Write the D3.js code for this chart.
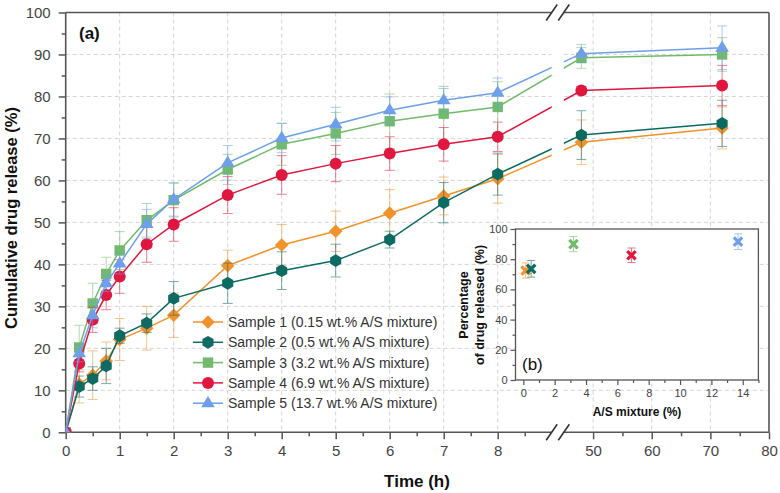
<!DOCTYPE html>
<html><head><meta charset="utf-8">
<script src="https://cdn.jsdelivr.net/npm/d3@7"></script>
<style>
body{margin:0;background:#fff;}
svg{display:block;font-family:"Liberation Sans",Arial,sans-serif;}
</style></head>
<body><svg id="c" width="780" height="493"></svg>
<script>
// ---- data ----
const times = [0,0.25,0.5,0.75,1,1.5,2,3,4,5,6,7,8,48,72];
const seriesNames = ["Sample 1 (0.15 wt.% A/S mixture)","Sample 2 (0.5 wt.% A/S mixture)","Sample 3 (3.2 wt.% A/S mixture)","Sample 4 (6.9 wt.% A/S mixture)","Sample 5 (13.7 wt.% A/S mixture)"];
const s1 = [0,11.5,13.6,17.0,22.1,24.8,27.9,39.7,44.6,47.9,52.2,56.3,60.4,69.1,72.5];
const e1 = [0,4.5,5.8,4.5,5.0,5.2,5.3,3.7,4.9,4.8,5.6,4.5,5.8,5.3,5.0];
const s2 = [0,10.9,12.8,15.8,23.0,26.0,31.9,35.5,38.5,40.9,45.9,54.7,61.5,70.8,73.6];
const e2 = [0,2.5,2.8,4.2,1.8,2.2,4.0,4.8,4.5,3.9,2.0,4.8,5.0,5.8,5.5];
const s3 = [0,20.2,30.7,37.7,43.3,50.5,55.3,62.6,68.6,71.2,74.1,75.9,77.5,89.2,90.0];
const e3 = [0,5.3,4.8,4.0,4.5,4.0,4.0,3.6,5.0,5.0,6.5,6.5,6.0,2.5,4.0];
const s4 = [0,16.4,26.8,32.7,37.1,44.8,49.5,56.5,61.3,64.0,66.4,68.6,70.4,81.4,82.6];
const e4 = [0,2.0,3.0,3.5,4.0,4.3,4.0,4.4,4.6,4.3,4.0,4.0,3.5,1.0,4.8];
const s5 = [0,18.8,27.9,35.5,40.2,49.6,55.5,64.2,70.1,73.4,76.7,79.1,80.9,90.2,91.6];
const e5 = [0,2.0,3.0,2.0,2.5,3.5,4.0,4.1,3.5,4.0,3.2,2.8,3.5,2.2,5.2];
const xTicksLeft = [0,1,2,3,4,5,6,7,8];
const xTicksRight = [50,60,70,80];
const yTicks = [0,10,20,30,40,50,60,70,80,90,100];
// inset
const insetX = [0.15,0.5,3.2,6.9,13.7];
const insetY = [72.5,73.6,90.0,82.6,91.6];
const insetErr = [5.0,5.5,5.0,4.8,5.2];
const insetXTicks = [0,2,4,6,8,10,12,14];
const insetYTicks = [0,20,40,60,80,100];

const colors = ["#F2922C","#0E6B63","#72BB6C","#E0173F","#6E9FEA"];
const values = [s1,s2,s3,s4,s5];
const errs = [e1,e2,e3,e4,e5];
const shapes = ["diamond","hexagon","square","circle","triangle"];

const svg = d3.select("#c");
const L=65.7, R=769, T=12.5, B=432.3, B1=551.7, B2=563.8;
const x = d3.scaleLinear().domain([0,9,45,80]).range([L,B1,B2,R]);
const y = d3.scaleLinear().domain([0,100]).range([B,T]);

function shapePath(s){
  if(s==="diamond"){const r=6.8;return `M0,${-r}L${r},0L0,${r}L${-r},0Z`;}
  if(s==="hexagon"){const r=6.4;let p="";for(let i=0;i<6;i++){const a=Math.PI/2+i*Math.PI/3;p+=(i?"L":"M")+(r*Math.cos(a)).toFixed(2)+","+(-r*Math.sin(a)).toFixed(2);}return p+"Z";}
  if(s==="square"){const h=5.2;return `M${-h},${-h}H${h}V${h}H${-h}Z`;}
  if(s==="circle"){const r=6;return `M${r},0A${r},${r} 0 1,1 ${-r},0A${r},${r} 0 1,1 ${r},0Z`;}
  if(s==="triangle"){const r=7.2;return `M0,${-r}L${r*0.95},${r*0.55}L${-r*0.95},${r*0.55}Z`;}
}

// clip
const defs = svg.append("defs");
const cp = defs.append("clipPath").attr("id","plotclip");
cp.append("rect").attr("x",L).attr("y",T-20).attr("width",B1-L).attr("height",B-T+20);
cp.append("rect").attr("x",B2).attr("y",T-20).attr("width",R-B2+10).attr("height",B-T+20);
const cp2 = defs.append("clipPath").attr("id","markclip");
cp2.append("rect").attr("x",L).attr("y",T-20).attr("width",R-L+10).attr("height",B-T+20);

// grid
const grid = svg.append("g").attr("stroke","#cfcfcf").attr("stroke-width",0.9).attr("stroke-dasharray","4,3");
[1,2,3,4,5,6,7,8,50,60,70].forEach(v=>{
  grid.append("line").attr("x1",x(v)).attr("x2",x(v)).attr("y1",T).attr("y2",B);
});
[10,20,30,40,50,60,70,80,90].forEach(v=>{
  grid.append("line").attr("x1",L).attr("x2",B1).attr("y1",y(v)).attr("y2",y(v));
  grid.append("line").attr("x1",B2).attr("x2",R).attr("y1",y(v)).attr("y2",y(v));
});

// axes ticks
const axCol="#555";
const ax = svg.append("g");
const xMinor = [0.5,1.5,2.5,3.5,4.5,5.5,6.5,7.5,8.5,55,65,75];
ax.append("g").attr("transform",`translate(0,${B})`)
  .call(d3.axisBottom(x).tickValues(xTicksLeft.concat(xTicksRight)).tickSize(7).tickPadding(6).tickFormat(d3.format("d")))
  .call(g=>{g.select(".domain").remove();g.selectAll("line").attr("stroke",axCol).attr("stroke-width",1.5);
    g.selectAll("text").attr("fill","#444").style("font-size","15px").style("font-family","Liberation Sans, Arial, sans-serif");});
ax.append("g").attr("transform",`translate(0,${B})`)
  .call(d3.axisBottom(x).tickValues(xMinor).tickSize(4).tickFormat(""))
  .call(g=>{g.select(".domain").remove();g.selectAll("line").attr("stroke",axCol).attr("stroke-width",1.5);});
ax.append("g").attr("transform",`translate(${L},0)`)
  .call(d3.axisLeft(y).tickValues(yTicks).tickSize(7).tickPadding(8).tickFormat(d3.format("d")))
  .call(g=>{g.select(".domain").remove();g.selectAll("line").attr("stroke",axCol).attr("stroke-width",1.5);
    g.selectAll("text").attr("fill","#444").style("font-size","15px").style("font-family","Liberation Sans, Arial, sans-serif");});
ax.append("g").attr("transform",`translate(${L},0)`)
  .call(d3.axisLeft(y).tickValues([5,15,25,35,45,55,65,75,85,95]).tickSize(4).tickFormat(""))
  .call(g=>{g.select(".domain").remove();g.selectAll("line").attr("stroke",axCol).attr("stroke-width",1.5);});

// frame
const fr = svg.append("g").attr("stroke",axCol).attr("stroke-width",1.6).attr("fill","none");
fr.append("line").attr("x1",L).attr("x2",L).attr("y1",T).attr("y2",B);
fr.append("line").attr("x1",R).attr("x2",R).attr("y1",T).attr("y2",B);
[T,B].forEach(yy=>{
  fr.append("line").attr("x1",L).attr("x2",B1).attr("y1",yy).attr("y2",yy);
  fr.append("line").attr("x1",B2).attr("x2",R).attr("y1",yy).attr("y2",yy);
});
const sl = svg.append("g").attr("stroke","#333").attr("stroke-width",1.6);
[B1,B2].forEach(cx=>[T,B].forEach(cy=>{
  sl.append("line").attr("x1",cx-5.5).attr("y1",cy+8).attr("x2",cx+5.5).attr("y2",cy-8);
}));

// series
values.forEach((vals,si)=>{
  const col = colors[si];
  const data = times.map((t,i)=>({t,v:vals[i],e:errs[si][i]}));
  const g = svg.append("g");
  // error bars
  const eb = g.append("g").attr("clip-path","url(#plotclip)").attr("stroke",col).attr("stroke-width",1).attr("opacity",0.55);
  data.filter(d=>d.e>0).forEach(d=>{
    const cx=x(d.t);
    eb.append("line").attr("x1",cx).attr("x2",cx).attr("y1",y(d.v-d.e)).attr("y2",y(d.v+d.e));
    eb.append("line").attr("x1",cx-5).attr("x2",cx+5).attr("y1",y(d.v-d.e)).attr("y2",y(d.v-d.e));
    eb.append("line").attr("x1",cx-5).attr("x2",cx+5).attr("y1",y(d.v+d.e)).attr("y2",y(d.v+d.e));
  });
  g.append("path").datum(data).attr("clip-path","url(#plotclip)")
    .attr("d",d3.line().x(d=>x(d.t)).y(d=>y(d.v)))
    .attr("fill","none").attr("stroke",col).attr("stroke-width",1.5);
  g.append("g").attr("clip-path","url(#markclip)").selectAll("path").data(data).join("path")
    .attr("d",shapePath(shapes[si])).attr("transform",d=>`translate(${x(d.t)},${y(d.v)})`)
    .attr("fill",col);
});

// legend
const lg = svg.append("g");
const legY0 = 322, legDy = 20.3;
seriesNames.forEach((n,i)=>{
  const yy = legY0 + i*legDy;
  lg.append("line").attr("x1",193).attr("x2",223).attr("y1",yy).attr("y2",yy).attr("stroke",colors[i]).attr("stroke-width",1.5);
  lg.append("path").attr("d",shapePath(shapes[i])).attr("transform",`translate(208,${yy})`).attr("fill",colors[i]);
  lg.append("text").attr("x",228).attr("y",yy+5).text(n).attr("fill","#333").style("font-size","14px");
});

// titles
svg.append("text").attr("x",417).attr("y",487).attr("text-anchor","middle").text("Time (h)")
  .style("font-weight","bold").style("font-size","17px").attr("fill","#111");
svg.append("text").attr("transform","translate(17,218) rotate(-90)").attr("text-anchor","middle")
  .text("Cumulative drug release (%)").style("font-weight","bold").style("font-size","16.5px").attr("fill","#111");
svg.append("text").attr("x",79).attr("y",39).text("(a)").style("font-weight","bold").style("font-size","17px").attr("fill","#111");

// ---- inset ----
const iL=515.5, iR=758.4, iT=229, iB=380;
const ix = d3.scaleLinear().domain([-0.5,15]).range([iL,iR]);
const iy = d3.scaleLinear().domain([0,100]).range([iB,iT]);
const ig = svg.append("g");
ig.append("rect").attr("x",iL).attr("y",iT).attr("width",iR-iL).attr("height",iB-iT).attr("fill","#fff");
ig.append("g").attr("transform",`translate(0,${iB})`)
  .call(d3.axisBottom(ix).tickValues(insetXTicks).tickSize(5).tickPadding(4).tickFormat(d3.format("d")))
  .call(g=>{g.select(".domain").remove();g.selectAll("line").attr("stroke",axCol).attr("stroke-width",1.2);
    g.selectAll("text").attr("fill","#444").style("font-size","11px").style("font-family","Liberation Sans, Arial, sans-serif");});
ig.append("g").attr("transform",`translate(0,${iB})`)
  .call(d3.axisBottom(ix).tickValues([1,3,5,7,9,11,13,15]).tickSize(3).tickFormat(""))
  .call(g=>{g.select(".domain").remove();g.selectAll("line").attr("stroke",axCol).attr("stroke-width",1.2);});
ig.append("g").attr("transform",`translate(${iL},0)`)
  .call(d3.axisLeft(iy).tickValues(insetYTicks).tickSize(5).tickPadding(3).tickFormat(d3.format("d")))
  .call(g=>{g.select(".domain").remove();g.selectAll("line").attr("stroke",axCol).attr("stroke-width",1.2);
    g.selectAll("text").attr("fill","#444").style("font-size","11px").style("font-family","Liberation Sans, Arial, sans-serif");});
ig.append("g").attr("transform",`translate(${iL},0)`)
  .call(d3.axisLeft(iy).tickValues([10,30,50,70,90]).tickSize(3).tickFormat(""))
  .call(g=>{g.select(".domain").remove();g.selectAll("line").attr("stroke",axCol).attr("stroke-width",1.2);});
ig.append("rect").attr("x",iL).attr("y",iT).attr("width",iR-iL).attr("height",iB-iT).attr("fill","none").attr("stroke",axCol).attr("stroke-width",1.3);
insetX.forEach((xv,i)=>{
  const cx=ix(xv), cy=iy(insetY[i]), col=colors[i];
  const eg = ig.append("g").attr("stroke",col).attr("stroke-width",1).attr("opacity",0.6);
  const y1=iy(insetY[i]-insetErr[i]), y2=iy(insetY[i]+insetErr[i]);
  eg.append("line").attr("x1",cx).attr("x2",cx).attr("y1",y1).attr("y2",y2);
  eg.append("line").attr("x1",cx-4).attr("x2",cx+4).attr("y1",y1).attr("y2",y1);
  eg.append("line").attr("x1",cx-4).attr("x2",cx+4).attr("y1",y2).attr("y2",y2);
  const r=4.2;
  ig.append("path").attr("d",`M${cx-r},${cy-r}L${cx+r},${cy+r}M${cx-r},${cy+r}L${cx+r},${cy-r}`)
    .attr("stroke",col).attr("stroke-width",3.2).attr("fill","none");
});
ig.append("text").attr("x",637).attr("y",416).attr("text-anchor","middle").text("A/S mixture (%)")
  .style("font-weight","bold").style("font-size","12px").attr("fill","#111");
ig.append("text").attr("transform","translate(468,305) rotate(-90)").attr("text-anchor","middle").text("Percentage")
  .style("font-weight","bold").style("font-size","12.5px").attr("fill","#111");
ig.append("text").attr("transform","translate(484,305) rotate(-90)").attr("text-anchor","middle").text("of drug released (%)")
  .style("font-weight","bold").style("font-size","12.5px").attr("fill","#111");
ig.append("text").attr("x",522).attr("y",370).text("(b)").style("font-size","17px").attr("fill","#111");
</script></body></html>
